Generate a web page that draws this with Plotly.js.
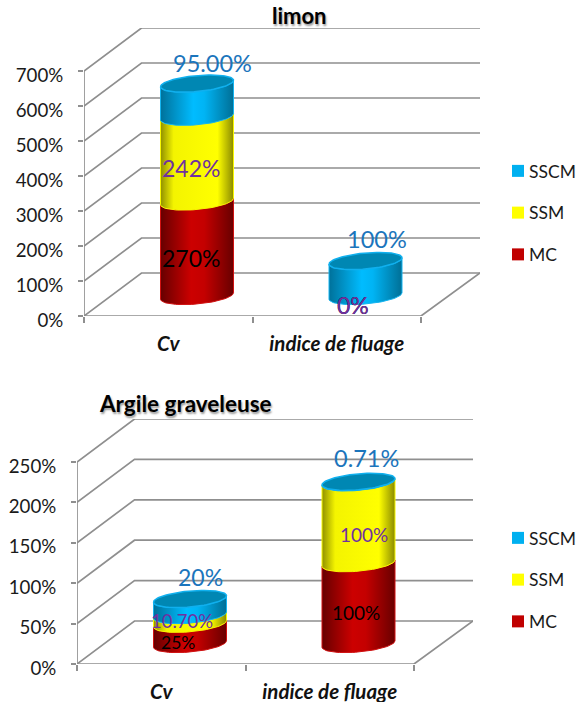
<!DOCTYPE html>
<html><head><meta charset="utf-8">
<script src="https://cdn.plot.ly/plotly-3.0.1.min.js"></script>
<style>html,body{margin:0;padding:0;background:#fff}#c{width:587px;height:702px}</style>
</head><body><div id="c"></div>
<script>
// ---- data ----
const categories = ['Cv', 'indice de fluage'];
const seriesNames = ['MC', 'SSM', 'SSCM'];
const limonMC = [270, 0];
const limonSSM = [242, 0];
const limonSSCM = [95, 100];
const limonLabels = [['270%', '0%'], ['242%', '0%'], ['95.00%', '100%']];
const argileMC = [25, 100];
const argileSSM = [10.7, 100];
const argileSSCM = [20, 0.71];
const argileLabels = [['25%', '100%'], ['10.70%', '100%'], ['20%', '0.71%']];
const limonTicks = [0, 100, 200, 300, 400, 500, 600, 700];
const argileTicks = [0, 50, 100, 150, 200, 250];

// ---- styling / layout ----
const W = 587, H = 702, FONT = 'Lato, Carlito, sans-serif', GRID = '#8f8f8f';
const catPx = 168.5, depthX = 57.5, depthY = 43, barPx = 73, capB = 8, capK = -3.2;
const sides = {
  MC: [[0, '#660000'], [0.42, '#cc0000'], [0.6, '#c40000'], [1, '#680000']],
  SSM: [[0, '#909000'], [0.18, '#f4f400'], [0.78, '#ffff00'], [1, '#8a8a00']],
  SSCM: [[0, '#00719a'], [0.45, '#00bcff'], [0.6, '#00b4f4'], [1, '#006f96']]
};
const flat = {MC: '#C00000', SSM: '#FFFF00', SSCM: '#00B0F0'};
const edges = {MC: '#d01010', SSM: '#f8f800', SSCM: '#14b4f0'};
const labelColors = {MC: '#000000', SSM: '#7030A0', SSCM: '#1B75BC'};

const panels = [
  {x0: 84, y0: 316, yTop: 28, pxPer: 0.35, ticks: limonTicks, series: [limonMC, limonSSM, limonSSCM], labels: limonLabels,
   ax: ['x', 'y', 'y2', 'x2'], legend: 'legend', title: 'limon', titleX: 299, titleY: 15, titleSize: 22, tickSize: 18.7,
   shifts: [[[-6, 9], [-12.5, 9]], [[-6, 9], [-12.5, 9]], [[15, -37], [11.5, -40]]],
   sizes: [[23, 23], [23, 23], [23.5, 23.5]]},
  {x0: 77, y0: 664, yTop: 419, pxPer: 0.808, ticks: argileTicks, series: [argileMC, argileSSM, argileSSCM], labels: argileLabels,
   ax: ['x3', 'y3', 'y4', 'x4'], legend: 'legend2', title: 'Argile graveleuse', titleX: 185, titleY: 403, titleSize: 22.5, tickSize: 18.7,
   shifts: [[[-12, 9], [-3, 9]], [[-8, 2], [5, 12]], [[10, -30], [8, -24.5]]],
   sizes: [[17.5, 19], [18.5, 19], [23, 23.5]]}
];

const traces = [], annotations = [], layout = {
  width: W, height: H, margin: {l: 0, r: 0, t: 0, b: 0}, paper_bgcolor: '#fff', plot_bgcolor: 'rgba(0,0,0,0)',
  barmode: 'stack', font: {family: FONT, color: '#1a1a1a'}, showlegend: true, hovermode: false, annotations
};
const axKey = a => a[0] === 'x' ? 'xaxis' + a.slice(1) : 'yaxis' + a.slice(1);

panels.forEach((p, pi) => {
  const [xa, ya, ya2, xa2] = p.ax;
  const xSpan = (catPx * 2 + depthX + 1.5) / catPx;
  const ySpan = (p.y0 - p.yTop) / p.pxPer;
  const baseShift = 20 / p.pxPer;
  const ddx = depthX / catPx, ddy = depthY / p.pxPer;
  const xDom = [p.x0 / W, (p.x0 + xSpan * catPx) / W];
  const yDom = [1 - p.y0 / H, 1 - p.yTop / H];

  layout[axKey(xa)] = {domain: xDom, range: [0, xSpan], anchor: ya, showgrid: false, zeroline: false, showline: false,
    tickmode: 'array', tickvals: [0, 1, 2], ticktext: ['', '', ''], ticks: 'outside', ticklen: 6, tickwidth: 1.5, tickcolor: GRID};
  layout[axKey(xa2)] = {domain: xDom, range: [0, xSpan], anchor: ya, overlaying: xa, showgrid: false, zeroline: false, showline: false,
    tickmode: 'array', tickvals: [0.5, 1.5], ticktext: categories, ticks: '', ticklabelstandoff: 13,
    tickfont: {family: FONT, size: 20.5, color: '#111', weight: 'bold', style: 'italic'}};
  layout[axKey(ya)] = {domain: yDom, range: [0, ySpan], anchor: xa, showgrid: false, zeroline: false, showline: false,
    tickmode: 'array', tickvals: p.ticks, ticktext: p.ticks.map(v => v + '%'), ticks: 'outside', ticklen: 5, tickwidth: 1.5, tickcolor: GRID,
    ticklabelstandoff: 11, ticklabelshift: 4, tickfont: {family: FONT, size: p.tickSize, color: '#1a1a1a'}};
  layout[axKey(ya2)] = {domain: yDom, range: [-baseShift, ySpan - baseShift], anchor: xa, overlaying: ya, visible: false};

  // walls and floor
  const gx = [], gy = [];
  p.ticks.forEach(v => { gx.push(0, ddx, xSpan, null); gy.push(v, v + ddy, v + ddy, null); });
  const top = p.ticks[p.ticks.length - 1];
  gx.push(0, 0, null, 0, 2, xSpan, null); gy.push(0, top, null, 0, 0, ddy, null);
  traces.push({type: 'scatter', mode: 'lines', x: gx, y: gy, xaxis: xa, yaxis: ya, showlegend: false, hoverinfo: 'skip', cliponaxis: false,
    line: {color: GRID, width: 1.7}});
  // category-label axis carrier
  traces.push({type: 'scatter', mode: 'none', x: [0.5, 1.5], y: [0, 0], xaxis: xa2, yaxis: ya, showlegend: false, hoverinfo: 'skip'});

  const cx = categories.map((c, i) => i + 0.5 + (depthX / 2) / catPx);
  const a = (barPx / 2) / catPx, b = capB / p.pxPer, k = capK / p.pxPer;

  // stacked columns through the axis
  seriesNames.forEach((name, si) => {
    traces.push({type: 'bar', name, x: cx, y: p.series[si], width: 0.28, xaxis: xa, yaxis: ya2,
      marker: {color: flat[name]}, legend: p.legend, legendgroup: p.legend + name, showlegend: true, legendrank: 10 - si});
  });

  // cylinder bodies
  cx.forEach((c, ci) => {
    let cum = 0;
    seriesNames.forEach((name, si) => {
      const v = p.series[si][ci], lo = cum, hi = cum + v;
      cum = hi;
      const shift = p.shifts[si][ci];
      annotations.push({xref: xa, yref: ya2, x: c, y: (lo + hi) / 2, text: p.labels[si][ci], showarrow: false,
        xshift: shift[0], yshift: -shift[1], xanchor: 'center', yanchor: 'middle',
        font: {family: FONT, size: p.sizes[si][ci], color: labelColors[name]}});
      if (v <= 0) return;
      const xs = [], ys = [];
      for (let i = 0; i <= 40; i++) { const t = Math.PI * i / 40;
        xs.push(c + a * Math.cos(t)); ys.push(lo - b * Math.sin(t) - k * Math.cos(t)); }
      for (let i = 0; i <= 40; i++) { const t = Math.PI - Math.PI * i / 40;
        xs.push(c + a * Math.cos(t)); ys.push(hi - b * Math.sin(t) - k * Math.cos(t)); }
      xs.push(xs[0]); ys.push(ys[0]);
      traces.push({type: 'scatter', mode: 'lines', x: xs, y: ys, xaxis: xa, yaxis: ya2, fill: 'toself', showlegend: false, hoverinfo: 'skip',
        cliponaxis: false, line: {color: edges[name], width: 1},
        fillgradient: {type: 'horizontal', colorscale: sides[name]}, fillcolor: flat[name]});
    });
    // top cap
    const xs = [], ys = [];
    for (let i = 0; i <= 80; i++) { const t = 2 * Math.PI * i / 80;
      xs.push(c + a * Math.cos(t)); ys.push(cum - b * Math.sin(t) - k * Math.cos(t)); }
    traces.push({type: 'scatter', mode: 'lines', x: xs, y: ys, xaxis: xa, yaxis: ya2, fill: 'toself', fillcolor: '#0087b3', showlegend: false,
      hoverinfo: 'skip', cliponaxis: false, line: {color: '#10b0ee', width: 1.5}});
  });

  annotations.push({xref: 'paper', yref: 'paper', x: p.titleX / W, y: 1 - p.titleY / H, text: '<b>' + p.title + '</b>', showarrow: false,
    xanchor: 'center', yanchor: 'middle', font: {family: FONT, size: p.titleSize, color: '#000', shadow: '1px 2px 2px #999'}});
});

const legendStyle = {xanchor: 'left', yanchor: 'top', traceorder: 'grouped', tracegroupgap: 16, bgcolor: 'rgba(0,0,0,0)',
  font: {family: FONT, size: 17.5, color: '#1a1a1a'}, itemclick: false, itemdoubleclick: false};
layout.legend = Object.assign({x: 489 / W, y: 1 - 153 / H}, legendStyle);
layout.legend2 = Object.assign({x: 489 / W, y: 1 - 520 / H}, legendStyle);

Plotly.newPlot('c', traces, layout, {displayModeBar: false, responsive: false}).then(() => {
  // the reference key sits its swatch right beside the text
  document.querySelectorAll('.infolayer .layers').forEach(g => g.setAttribute('transform', 'translate(9,0)'));
});
</script></body></html>
